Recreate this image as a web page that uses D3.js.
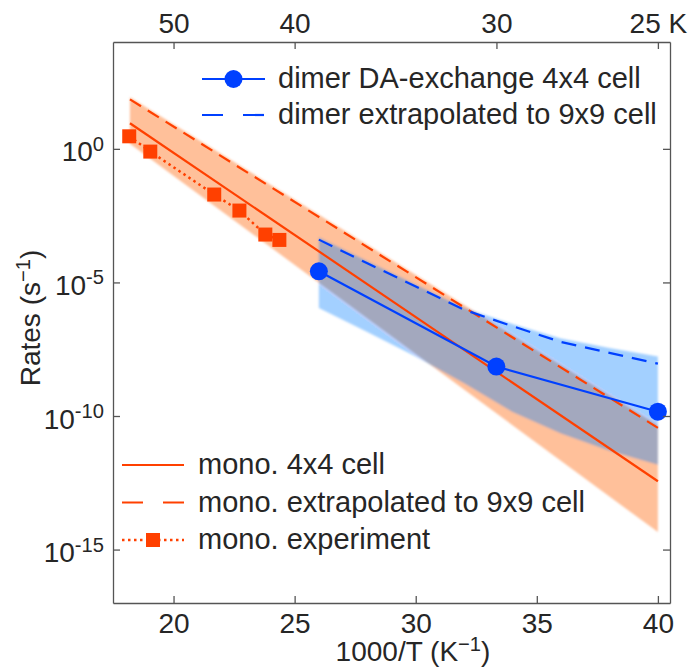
<!DOCTYPE html>
<html>
<head>
<meta charset="utf-8">
<script src="https://cdnjs.cloudflare.com/ajax/libs/d3/7.8.5/d3.min.js"></script>
<style>
  body { margin: 0; background: #fff; }
  text { font-family: "Liberation Sans", Arial, Helvetica, sans-serif; fill: #262626; }
</style>
</head>
<body>
<div id="chart-area"></div>
<script>
// 1000/T in K^-1, rates in s^-1
let monoT = [18.2, 40]
let mono4x4 = [9.1, 3.6e-13]
let mono9x9 = [71, 3.6e-11]
let monoBandHigh = [85, 4.5e-11]
let monoBandLow = [1.55, 4.5e-15]

let expT = [18.17, 19.04, 21.68, 22.72, 23.79, 24.37]
let expRate = [2.95, 0.79, 1.95e-2, 4.9e-3, 6.2e-4, 3.9e-4]

let dimerT = [26, 33.33, 40]
let dimer4x4 = [2.6e-5, 7.1e-9, 1.45e-10]

let dimerExtT = [26, 28, 30, 32, 34, 36, 38, 40]
let dimer9x9 = [4.0e-4, 5.2e-5, 7.1e-6, 9.5e-7, 2.3e-7, 5.9e-8, 2.3e-8, 9.1e-9]
let dimerBandHigh = [4.9e-4, 6.3e-5, 8.3e-6, 1.1e-6, 2.8e-7, 7.9e-8, 3.5e-8, 1.7e-8]
let dimerBandLow = [1.1e-6, 1.4e-7, 1.7e-8, 1.7e-9, 1.4e-10, 2.2e-11, 5.0e-12, 1.5e-12]

let xTicks = [20, 25, 30, 35, 40]
let yExponents = [0, -5, -10, -15]
let tempTicks = [50, 40, 30, 25]
let tempLabels = ["50", "40", "30", "25 K"]

let width = 694
let height = 667
let mLeft = 113, mRight = 670, mTop = 42, mBottom = 603

let orange = "#ff4000"
let blue = "#0040ff"

let svg = d3.select("#chart-area")
            .append("svg")
            .attr("width", width)
            .attr("height", height)

let x = d3.scaleLinear().domain([17.5, 40.5]).range([mLeft, mRight])
let y = d3.scaleLog().domain([1e-17, 1e4]).range([mBottom, mTop])

let zip = (ts, vs) => ts.map((t, i) => ({ t: t, v: vs[i] }))
let band = (ts, lo, hi) => ts.map((t, i) => ({ t: t, lo: lo[i], hi: hi[i] }))

let line = d3.line().x(d => x(d.t)).y(d => y(d.v))
let area = d3.area().x(d => x(d.t)).y0(d => y(d.lo)).y1(d => y(d.hi))

let defs = svg.append("defs")
defs.append("filter").attr("id", "soft")
    .attr("x", "-5%").attr("y", "-5%").attr("width", "110%").attr("height", "110%")
    .append("feGaussianBlur").attr("stdDeviation", 1.3)

// shaded uncertainty bands
let bands = svg.append("g").attr("filter", "url(#soft)")
bands.append("path")
    .attr("d", area(band(monoT, monoBandLow, monoBandHigh)))
    .attr("fill", "#ffc09a")
bands.append("path")
    .attr("d", area(band(dimerExtT, dimerBandLow, dimerBandHigh)))
    .attr("fill", "rgb(0,126,255)")
    .attr("fill-opacity", 0.36)

// monomer
svg.append("path").attr("d", line(zip(monoT, mono4x4)))
    .attr("fill", "none").attr("stroke", orange).attr("stroke-width", 2.2)
svg.append("path").attr("d", line(zip(monoT, mono9x9)))
    .attr("fill", "none").attr("stroke", orange).attr("stroke-width", 2.2)
    .attr("stroke-dasharray", "13,8")
svg.append("path").attr("d", line(zip(expT, expRate)))
    .attr("fill", "none").attr("stroke", orange).attr("stroke-width", 2.5)
    .attr("stroke-dasharray", "2.5,3.5")
svg.selectAll(".sq")
    .data(zip(expT, expRate))
    .enter()
    .append("rect")
    .attr("x", d => x(d.t) - 7)
    .attr("y", d => y(d.v) - 7)
    .attr("width", 14)
    .attr("height", 14)
    .attr("fill", orange)

// dimer
svg.append("path").attr("d", line(zip(dimerExtT, dimer9x9)))
    .attr("fill", "none").attr("stroke", blue).attr("stroke-width", 2.2)
    .attr("stroke-dasharray", "15,9")
svg.append("path").attr("d", line(zip(dimerT, dimer4x4)))
    .attr("fill", "none").attr("stroke", blue).attr("stroke-width", 2.2)
svg.selectAll(".dot")
    .data(zip(dimerT, dimer4x4))
    .enter()
    .append("circle")
    .attr("cx", d => x(d.t))
    .attr("cy", d => y(d.v))
    .attr("r", 9)
    .attr("fill", blue)

// axes
let axisColor = "#555"
let fontSize = 28

let xAxis = svg.append("g")
    .attr("transform", `translate(0,${mBottom})`)
    .call(d3.axisBottom(x).tickValues(xTicks).tickSizeInner(-7).tickSizeOuter(0).tickPadding(10))
let topAxis = svg.append("g")
    .attr("transform", `translate(0,${mTop})`)
    .call(d3.axisTop(x).tickValues(tempTicks.map(k => 1000 / k))
        .tickFormat((d, i) => tempLabels[i]).tickSizeInner(-7).tickSizeOuter(0).tickPadding(9))
let yAxis = svg.append("g")
    .attr("transform", `translate(${mLeft},0)`)
    .call(d3.axisLeft(y).tickValues(yExponents.map(e => Math.pow(10, e)))
        .tickFormat("").tickSizeInner(-7).tickSizeOuter(0).tickPadding(9))
let yAxisR = svg.append("g")
    .attr("transform", `translate(${mRight},0)`)
    .call(d3.axisRight(y).tickValues(yExponents.map(e => Math.pow(10, e)))
        .tickFormat("").tickSizeInner(-7).tickSizeOuter(0))

yAxis.selectAll(".tick text").each(function(d, i) {
    let t = d3.select(this).attr("dy", "0.43em")
    t.append("tspan").text("10")
    t.append("tspan").attr("dy", "-0.52em").attr("font-size", "0.72em").text(yExponents[i])
})

;[xAxis, topAxis, yAxis, yAxisR].forEach(g => {
    g.selectAll("path, line").attr("stroke", axisColor).attr("stroke-width", 1.3)
    g.selectAll("text").attr("fill", "#262626").attr("font-size", fontSize)
        .attr("font-family", "Liberation Sans, Arial, sans-serif")
})

// axis titles
let xl = svg.append("text")
    .attr("x", 413).attr("y", 661)
    .attr("text-anchor", "middle").attr("font-size", fontSize)
xl.append("tspan").text("1000/T (K")
xl.append("tspan").attr("dy", "-0.5em").attr("font-size", "0.72em").text("−1")
xl.append("tspan").attr("dy", "0.36em").text(")")

let yl = svg.append("text")
    .attr("transform", "translate(40,318) rotate(-90)")
    .attr("text-anchor", "middle").attr("font-size", fontSize)
yl.append("tspan").text("Rates (s")
yl.append("tspan").attr("dy", "-0.5em").attr("font-size", "0.72em").text("−1")
yl.append("tspan").attr("dy", "0.36em").text(")")

// legends
let legendFont = 29
let leg1 = svg.append("g")
leg1.append("line").attr("x1", 202).attr("x2", 265).attr("y1", 79).attr("y2", 79)
    .attr("stroke", blue).attr("stroke-width", 2.2)
leg1.append("circle").attr("cx", 233.5).attr("cy", 79).attr("r", 9).attr("fill", blue)
leg1.append("text").attr("x", 278).attr("y", 88).attr("font-size", legendFont)
    .text("dimer DA-exchange 4x4 cell")
leg1.append("line").attr("x1", 202).attr("x2", 265).attr("y1", 115).attr("y2", 115)
    .attr("stroke", blue).attr("stroke-width", 2.2).attr("stroke-dasharray", "21,20")
leg1.append("text").attr("x", 278).attr("y", 124).attr("font-size", legendFont)
    .text("dimer extrapolated to 9x9 cell")

let leg2 = svg.append("g")
leg2.append("line").attr("x1", 122).attr("x2", 184).attr("y1", 465).attr("y2", 465)
    .attr("stroke", orange).attr("stroke-width", 2.2)
leg2.append("text").attr("x", 198).attr("y", 474).attr("font-size", legendFont)
    .text("mono. 4x4 cell")
leg2.append("line").attr("x1", 122).attr("x2", 184).attr("y1", 502.5).attr("y2", 502.5)
    .attr("stroke", orange).attr("stroke-width", 2.2).attr("stroke-dasharray", "21,20")
leg2.append("text").attr("x", 198).attr("y", 511.5).attr("font-size", legendFont)
    .text("mono. extrapolated to 9x9 cell")
leg2.append("line").attr("x1", 122).attr("x2", 184).attr("y1", 540).attr("y2", 540)
    .attr("stroke", orange).attr("stroke-width", 2.5).attr("stroke-dasharray", "2.5,3.5")
leg2.append("rect").attr("x", 146).attr("y", 533).attr("width", 14).attr("height", 14)
    .attr("fill", orange)
leg2.append("text").attr("x", 198).attr("y", 549).attr("font-size", legendFont)
    .text("mono. experiment")
</script>
</body>
</html>
